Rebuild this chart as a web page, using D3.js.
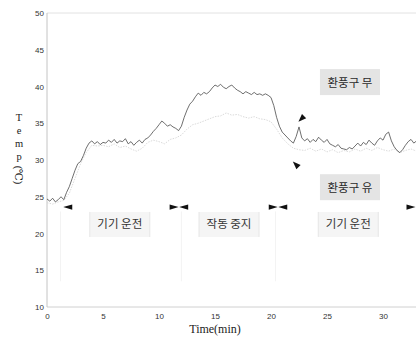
<!DOCTYPE html>
<html><head><meta charset="utf-8">
<script src="https://cdn.jsdelivr.net/npm/d3@7"></script>
<style>html,body{margin:0;padding:0;background:#fff;}svg{display:block;}</style>
</head><body>
<svg id="c" width="416" height="338"></svg>
<script>
// ---- data ----
const darkTimes = [0,0.25,0.5,0.75,1,1.25,1.5,1.75,2,2.25,2.5,2.75,3,3.25,3.5,3.75,4,4.25,4.5,4.75,5,5.25,5.5,5.75,6,6.25,6.5,6.75,7,7.25,7.5,7.75,8,8.25,8.5,8.75,9,9.25,9.5,9.75,10,10.25,10.5,10.75,11,11.25,11.5,11.75,12,12.25,12.5,12.75,13,13.25,13.5,13.75,14,14.25,14.5,14.75,15,15.25,15.5,15.75,16,16.25,16.5,16.75,17,17.25,17.5,17.75,18,18.25,18.5,18.75,19,19.25,19.5,19.75,20,20.25,20.5,20.75,21,21.25,21.5,21.75,22,22.25,22.5,22.75,23,23.25,23.5,23.75,24,24.25,24.5,24.75,25,25.25,25.5,25.75,26,26.25,26.5,26.75,27,27.25,27.5,27.75,28,28.25,28.5,28.75,29,29.25,29.5,29.75,30,30.25,30.5,30.75,31,31.25,31.5,31.75,32,32.25,32.5,32.75,33];
const darkTemps = [24.7,24.4,24.8,24.3,24.6,25.0,24.6,25.6,26.4,27.5,28.6,29.5,29.8,30.6,31.6,32.3,32.6,32.2,32.5,32.1,32.4,32.3,32.7,32.4,32.8,32.3,32.6,32.5,32.9,32.2,32.5,32.0,32.4,32.7,32.3,32.8,33.0,33.4,33.9,34.3,34.8,35.3,35.0,34.6,34.8,34.5,34.3,34.0,34.6,35.8,36.8,37.6,38.0,38.6,39.1,38.8,39.2,39.0,39.3,39.8,40.2,40.0,40.3,39.9,39.7,40.0,40.2,39.8,39.5,39.3,39.0,39.3,39.1,38.9,39.2,38.9,39.0,38.8,39.0,38.8,38.5,37.4,35.8,34.6,33.8,33.4,33.0,32.6,32.3,33.2,34.5,33.0,32.6,32.9,32.4,32.8,32.5,33.1,32.7,32.4,32.8,32.2,32.0,31.8,32.1,31.6,31.5,31.4,31.7,31.5,31.9,32.3,31.9,32.4,32.1,32.7,32.3,32.0,32.6,33.0,32.7,33.5,33.8,32.6,31.8,31.3,31.0,31.4,32.0,32.5,32.8,32.3,32.6];

const lightTimes = [0,0.5,1,1.5,2,2.5,3,3.5,4,4.5,5,5.5,6,6.5,7,7.5,8,8.5,9,9.5,10,10.5,11,11.5,12,12.5,13,13.5,14,14.5,15,15.5,16,16.5,17,17.5,18,18.5,19,19.5,20,20.5,21,21.5,22,22.5,23,23.5,24,24.5,25,25.5,26,26.5,27,27.5,28,28.5,29,29.5,30,30.5,31,31.5,32,32.5,33];
const lightTemps = [24.2,24.0,24.3,24.5,25.5,27.5,29.5,31.0,32.0,31.9,32.0,31.8,32.2,31.7,31.9,31.5,31.2,31.6,32.4,32.7,32.5,32.2,32.8,33.0,33.4,34.2,34.8,35.0,35.3,35.6,35.9,36.0,36.4,36.1,36.2,35.9,35.7,35.9,35.6,35.5,35.2,34.2,33.0,32.2,31.6,31.4,31.3,31.6,31.2,31.5,31.1,31.4,31.0,31.3,31.1,31.5,31.2,31.6,31.3,31.7,31.4,31.2,31.5,31.0,31.3,31.5,31.2];

const xTicks = [0,5,10,15,20,25,30];
const yTicks = [10,15,20,25,30,35,40,45,50];
const yTitleLetters = ["T","e","m","p"];
const phaseLabels = ["기기 운전","작동 중지","기기 운전"];
const phaseCenters = [6.5,16.25,26.9];
const seriesLabels = ["환풍구 무","환풍구 유"];
const seriesLabelTemps = [40.6,26.3];
const seriesLabelTime = 27.05;
// arrowheads on the phase line: [time, direction] (-1 = pointing left, 1 = pointing right)
const phaseArrows = [[1.45,-1],[11.75,1],[11.8,-1],[20.6,1],[20.65,-1],[32.9,1]];
const phaseArrowTemp = 23.6;

// ---- scales ----
const svg = d3.select("#c");
const x = d3.scaleLinear().domain([0,33]).range([47,416.6]);
const y = d3.scaleLinear().domain([10,50]).range([307,13]);

// frame
svg.append("line").attr("x1",x(0)).attr("x2",416).attr("y1",y(50)).attr("y2",y(50)).attr("stroke","#e2e2e2").attr("stroke-width",1);
svg.append("line").attr("x1",x(0)).attr("x2",416).attr("y1",y(10)).attr("y2",y(10)).attr("stroke","#d0d0d0").attr("stroke-width",1);
svg.append("line").attr("x1",x(0)).attr("x2",x(0)).attr("y1",y(50)).attr("y2",y(10)).attr("stroke","#c4c4c4").attr("stroke-width",1);

// axes (labels only)
const yAxis = d3.axisLeft(y).tickValues(yTicks).tickSize(0).tickPadding(3);
const gy = svg.append("g").attr("transform",`translate(${x(0)},0)`).call(yAxis);
gy.select(".domain").remove();
gy.selectAll("text").attr("font-family","Liberation Sans, Arial, sans-serif").attr("font-size",8).attr("fill","#333");

const xAxis = d3.axisBottom(x).tickValues(xTicks).tickSize(0).tickPadding(6);
const gx = svg.append("g").attr("transform",`translate(0,${y(10)})`).call(xAxis);
gx.select(".domain").remove();
gx.selectAll("text").attr("font-family","Liberation Sans, Arial, sans-serif").attr("font-size",8).attr("fill","#333");

// titles
svg.append("text").attr("x",215).attr("y",333).attr("text-anchor","middle")
  .attr("font-family","Liberation Serif, DejaVu Serif, serif").attr("font-size",12).attr("fill","#222").text("Time(min)");
yTitleLetters.forEach((c,i)=>{
  svg.append("text").attr("x",19).attr("y",121+i*13).attr("text-anchor","middle")
    .attr("font-family","Liberation Serif, DejaVu Serif, serif").attr("font-size",10.5).attr("fill","#222").text(c);
});
svg.append("text").attr("transform","translate(15,175) rotate(90)").attr("text-anchor","middle")
  .attr("font-family","Liberation Serif, DejaVu Serif, serif").attr("font-size",10.5).attr("fill","#222").text("(℃)");

// faint guide lines
[1.2,12.0,20.4].forEach(t=>{
  svg.append("line").attr("x1",x(t)).attr("x2",x(t)).attr("y1",y(23)).attr("y2",y(13.5))
    .attr("stroke","#f3f3f3").attr("stroke-width",1);
});

// series
const line = d3.line().x(d=>x(d[0])).y(d=>y(d[1]));
const lightData = lightTimes.map((t,i)=>[t,lightTemps[i]]);
const darkData = darkTimes.map((t,i)=>[t,darkTemps[i]]);
svg.append("path").datum(lightData).attr("d",line)
  .attr("fill","none").attr("stroke","#d6d6d6").attr("stroke-width",0.9).attr("stroke-dasharray","1.5,1.2");
svg.append("path").datum(darkData).attr("d",line)
  .attr("fill","none").attr("stroke","#4a4a4a").attr("stroke-width",0.8);

// phase arrowheads
phaseArrows.forEach(([t,dir])=>{
  const tx = x(t), ty = y(phaseArrowTemp);
  const bx = tx - dir*9;
  svg.append("path").attr("d",`M${tx},${ty} L${bx},${ty-2.6} L${bx},${ty+2.6} Z`).attr("fill","#111");
});

// phase labels
phaseLabels.forEach((s,i)=>{
  const cx = x(phaseCenters[i]), cy = y(21.3);
  svg.append("rect").attr("x",cx-30).attr("y",cy-12).attr("width",60).attr("height",25).attr("fill","#f5f5f5");
  svg.append("line").attr("x1",cx-30).attr("x2",cx-30).attr("y1",cy-12).attr("y2",cy+13).attr("stroke","#e6e6e6");
  svg.append("line").attr("x1",cx+30).attr("x2",cx+30).attr("y1",cy-12).attr("y2",cy+13).attr("stroke","#e6e6e6");
  svg.append("text").attr("x",cx).attr("y",cy+4.5).attr("text-anchor","middle")
    .attr("font-family","Noto Sans CJK KR, sans-serif").attr("font-size",11.5).attr("fill","#333").text(s);
});

// series labels
seriesLabels.forEach((s,i)=>{
  const cx = x(seriesLabelTime), cy = y(seriesLabelTemps[i]);
  svg.append("rect").attr("x",cx-30).attr("y",cy-13).attr("width",60).attr("height",26).attr("fill","#e4e4e4");
  svg.append("text").attr("x",cx).attr("y",cy+4.5).attr("text-anchor","middle")
    .attr("font-family","Noto Sans CJK KR, sans-serif").attr("font-size",11.5).attr("fill","#2a2a2a").text(s);
});

// callout arrowheads
const callouts = [[22.45,35.2,1,-1],[21.95,29.8,1,1]];
callouts.forEach(([t,v,dx,dy])=>{
  const tx = x(t), ty = y(v);
  const ang = Math.atan2(dy, dx);
  const L = 8, W = 3;
  const bxm = tx + Math.cos(ang)*L, bym = ty + Math.sin(ang)*L;
  const px = -Math.sin(ang)*W, py = Math.cos(ang)*W;
  svg.append("path").attr("d",`M${tx},${ty} L${bxm+px},${bym+py} L${bxm-px},${bym-py} Z`).attr("fill","#111");
});
</script>
</body></html>
